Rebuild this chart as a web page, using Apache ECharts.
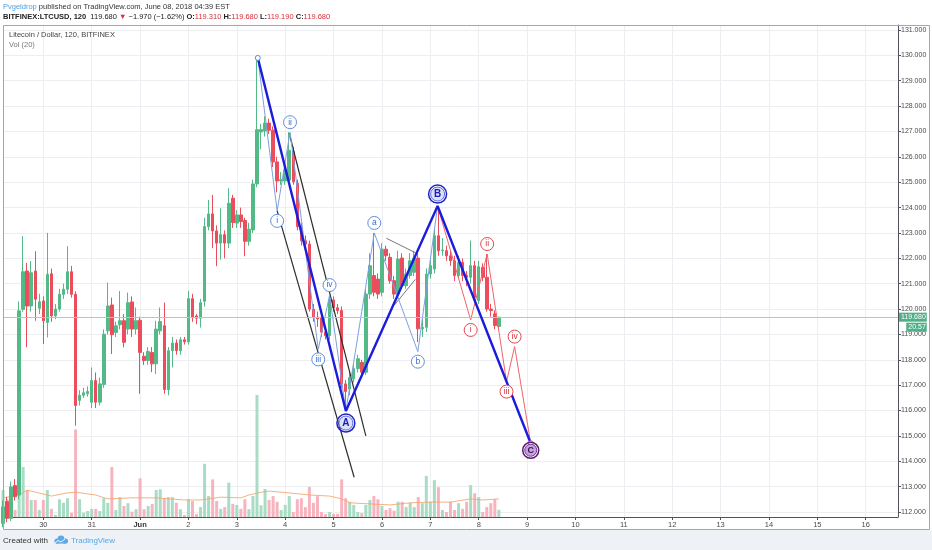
<!DOCTYPE html>
<html>
<head>
<meta charset="utf-8">
<script src="https://cdn.jsdelivr.net/npm/echarts@6/dist/echarts.min.js"></script>
<style>html,body{margin:0;padding:0;background:#fff;}#c{width:932px;height:550px;}</style>
</head>
<body>
<div id="c"></div>
<script>
// ---- data (bar index k = number of 2h bars after 30 May 00:00) ----
const firstBar = -10;
const lastSlot = 212;
const dayLabels = ['30','31','Jun','2','3','4','5','6','7','8','9','10','11','12','13','14','15','16'];
const priceTicks = [112,113,114,115,116,117,118,119,120,121,122,123,124,125,126,127,128,129,130,131];
// [open, close, low, high] for bars k = -10 .. 113
const candles = [
[111.55,112.20,111.40,112.45],[112.41,111.75,111.60,112.60],[111.75,112.99,111.65,113.20],[113.04,112.60,112.45,113.30],
[112.67,119.93,112.50,120.30],[119.99,121.47,119.90,122.87],[121.50,120.12,118.49,121.82],[120.12,121.43,119.90,121.89],
[121.50,120.39,119.54,122.28],[120.03,120.29,119.80,120.60],
[120.32,119.54,118.62,120.50],[119.47,121.37,118.88,123.00],[121.39,119.73,119.50,121.60],[119.73,120.00,119.60,120.20],
[120.00,120.58,119.90,120.80],[120.58,120.78,120.40,121.00],[120.78,121.47,120.60,122.48],[121.47,120.58,120.45,121.70],
[120.58,116.20,115.40,120.70],[116.40,116.60,116.20,116.80],
[116.60,116.70,116.50,116.90],[116.66,116.75,116.55,116.95],[116.33,117.18,116.10,117.70],[117.18,116.33,116.10,117.50],
[116.33,117.05,116.20,117.30],[117.03,119.01,116.90,119.20],[119.14,120.12,119.00,121.04],[120.16,118.99,118.23,120.45],
[119.08,119.34,118.90,119.50],[119.38,119.54,119.20,120.71],
[119.54,118.69,118.49,119.80],[119.21,120.25,119.00,120.65],[120.28,119.21,118.90,120.50],[119.21,119.54,119.00,120.06],
[119.56,118.29,116.66,119.70],[118.14,117.97,117.80,118.30],[117.97,118.33,117.80,118.50],[118.29,117.84,117.51,118.50],
[117.84,119.21,117.44,119.54],[119.14,119.51,119.00,120.06],
[119.34,116.83,116.66,120.26],[116.82,118.36,116.60,118.50],[118.36,118.66,117.70,118.90],[118.66,118.36,118.20,118.80],
[118.36,118.79,118.20,118.90],[118.79,118.71,118.60,118.90],[118.71,120.41,118.60,120.71],[120.41,119.69,119.50,120.60],
[119.73,119.64,119.40,119.80],[119.64,120.25,119.27,120.40],
[120.31,123.25,120.10,123.60],[123.25,123.75,123.10,124.30],[123.75,123.08,122.40,124.50],[123.08,122.60,121.69,123.30],
[122.60,122.93,121.95,123.97],[122.93,122.60,122.00,123.10],[122.60,124.17,122.40,124.76],[124.37,123.41,123.20,124.50],
[123.39,123.71,123.20,123.90],[123.71,123.45,123.20,124.00],
[123.49,122.67,122.08,123.60],[122.67,123.15,122.50,123.40],[123.12,124.93,123.00,125.10],[124.93,127.07,124.80,129.90],
[126.98,127.07,126.30,127.30],[127.02,127.33,126.80,127.60],[127.33,127.05,126.90,127.50],[127.05,125.80,125.60,127.20],
[125.80,125.05,124.60,126.00],[125.05,125.10,124.90,125.40],
[125.05,125.48,124.90,125.60],[125.08,126.26,124.95,126.97],[126.20,125.02,124.90,126.40],[124.95,123.25,123.10,125.10],
[123.22,122.69,122.50,123.40],[122.69,122.56,122.40,122.90],[122.56,120.00,119.90,122.70],[120.00,119.68,119.50,120.20],
[119.68,119.61,119.30,119.90],[119.68,119.09,118.90,119.80],
[119.09,118.95,118.80,119.20],[118.95,120.36,118.80,120.55],[120.36,120.05,119.90,120.50],[120.05,119.94,119.80,120.20],
[119.94,117.05,116.90,120.10],[117.05,116.75,115.98,117.20],[116.85,117.30,116.60,117.60],[117.25,117.65,117.10,117.80],
[117.65,118.04,117.50,118.20],[117.90,117.51,117.30,118.00],
[117.51,120.59,117.40,120.80],[120.59,121.71,120.40,122.20],[121.32,120.66,120.50,123.00],[121.18,120.59,120.40,121.40],
[120.66,122.36,120.50,122.60],[122.36,122.10,121.90,122.50],[122.04,121.12,121.00,122.20],[121.12,120.59,120.40,121.30],
[120.59,121.97,120.50,122.30],[122.01,120.92,120.80,122.20],
[120.92,121.38,120.80,121.60],[121.32,121.90,121.20,122.20],[121.45,122.01,121.30,122.30],[122.01,119.22,118.70,122.30],
[119.22,119.28,118.90,119.60],[119.28,121.38,119.10,121.60],[121.38,121.71,121.20,122.00],[121.58,122.89,121.40,123.20],
[122.89,122.30,122.10,124.05],[122.30,122.33,122.10,122.80],
[122.30,122.10,121.90,122.50],[122.10,121.90,121.70,122.30],[121.90,121.32,121.10,122.10],[121.32,121.84,121.20,122.10],
[121.84,121.32,121.10,122.00],[121.32,121.25,120.90,121.50],[121.25,121.71,121.00,122.70],[121.71,120.46,120.30,121.90],
[120.33,121.67,120.20,121.90],[121.64,121.25,121.10,121.80],
[121.25,120.00,119.90,122.17],[120.00,119.94,119.70,120.20],[119.81,119.35,119.20,119.95],[119.31,119.68,119.19,119.68]
];
const volumes = [
76,51,60,20,245,141,76,48,48,20,
48,76,23,6,50,40,53,12,247,50,
12,17,23,23,17,53,40,141,20,56,
31,39,15,22,109,22,31,37,76,78,
53,56,56,40,22,6,50,45,8,28,
150,59,106,45,23,28,97,37,34,23,
50,22,59,344,33,79,48,59,43,20,
34,59,14,50,53,28,85,40,59,14,
8,14,9,9,106,53,43,34,14,11,
34,48,59,50,31,20,25,18,43,43,
28,40,28,56,39,116,43,104,84,20,
14,43,20,39,23,43,90,67,56,14,
28,39,50,20.57
];
const volMA = [[-10,54],[-6,62],[-4,76],[2,59],[6,68],[8,70],[13,62],[16,51],[22,54],[28,54],[35,48],[39,48],[44,56],[49,54],[51,62],[54,70],[56,73],[61,68],[66,62],[71,59],[74,51],[76,40],[81,37],[86,34],[91,40],[96,42],[101,42],[106,51],[109,48],[113,51]];
const waveABC = [[53.2,129.9],[75.05,115.98],[97.8,124.06],[120.9,114.71]];
const waveAsub = [[53.2,129.9],[58.0,123.87],[61.2,126.97],[68.2,118.41],[71.0,120.55],[75.05,115.98]];
const waveBsub = [[75.05,115.98],[82.1,123.0],[92.9,118.32],[97.8,124.06]];
const waveCsub = [[97.8,124.06],[106,119.57],[110.1,122.17],[114.9,117.14],[116.9,118.52],[120.9,114.71]];
const channelUpper = [[61.0,126.93],[80.0,115.0]];
const channelLower = [[58.0,123.87],[77.1,113.37]];
const wedgeUpper = [[85.1,122.79],[92.3,122.22]];
const wedgeLower = [[87.1,120.16],[92.3,121.17]];
// label: [text, k, price, side(-1 above / 1 below)]
const blueMinorLabels = [['i',58.0,123.87,1],['ii',61.2,126.97,-1],['iii',68.2,118.41,1],['iv',71.0,120.55,-1],['a',82.1,123.0,-1],['b',92.9,118.32,1]];
const blueMajorLabels = [['A',75.05,115.98,1],['B',97.8,124.06,-1]];
const redMinorLabels = [['i',106,119.57,1],['ii',110.1,122.17,-1],['iii',114.9,117.14,1],['iv',116.9,118.52,-1]];
const cLabel = [['C',120.9,114.71,1]];
const lastPrice = 119.68, lastVol = 20.57;
const header = {sym:'BITFINEX:LTCUSD, 120', last:'119.680', chg:'\u22121.970 (\u22121.62%)', o:'119.310', h:'119.680', l:'119.190', c:'119.680'};

// ---- chart ----
const UP = '#53b987', DOWN = '#eb4d5c';
const FONT = 'Liberation Sans';
const cats = [];
for (let k = firstBar; k <= lastSlot; k++) cats.push(String(k));
const isDay = (idx) => { const k = idx + firstBar; return k >= 0 && k % 12 === 0; };

function lineSeries(data, color, width, z) {
  return {type:'line', xAxisIndex:1, yAxisIndex:0, data, symbol:'none', silent:true, z: z || 4,
    lineStyle:{color, width}, animation:false};
}
function circleLabels(list, o) {
  return {type:'scatter', xAxisIndex:1, yAxisIndex:0, z:o.z || 6, silent:true, symbol:'circle', symbolSize:o.size,
    itemStyle:{color:o.fill, borderColor:o.stroke, borderWidth:o.bw, opacity:1},
    label:{show:o.text != null, position:'inside', color:o.text, fontSize:o.fs, fontWeight:o.fw || 'normal', fontFamily:FONT,
      formatter:(p) => p.data.t},
    data:list.map(([t,k,p,side]) => ({value:[k,p], t, symbolOffset:[0, side*o.off]}))};
}

const chart = echarts.init(document.getElementById('c'), null, {width:932, height:550});
chart.setOption({
  animation:false,
  backgroundColor:'#ffffff',
  grid:{left:3, right:34, top:25, bottom:33, containLabel:false},
  xAxis:[
    {type:'category', data:cats, boundaryGap:false,
      axisLine:{show:true, onZero:false, lineStyle:{color:'#50535e', width:1}},
      axisTick:{show:true, interval:isDay, length:3, lineStyle:{color:'#50535e'}},
      axisLabel:{interval:isDay, color:'#4a4a4a', fontSize:7.5, fontFamily:FONT, margin:4,
        formatter:(v) => { const k = +v; const s = dayLabels[k/12]; return s === 'Jun' ? '{b|Jun}' : s; },
        rich:{b:{fontWeight:'bold', fontSize:7.5, fontFamily:FONT, color:'#333'}}},
      splitLine:{show:true, interval:isDay, lineStyle:{color:'#eceef2', width:1}}},
    {type:'value', min:firstBar, max:lastSlot, show:false, axisLine:{onZero:false}}
  ],
  yAxis:[
    {type:'value', position:'right', min:112 - 5/25.368, max:131 + 5/25.368, scale:true,
      axisLine:{show:true, onZero:false, lineStyle:{color:'#50535e'}},
      axisTick:{show:true, customValues:priceTicks, length:3, lineStyle:{color:'#50535e'}},
      axisLabel:{customValues:priceTicks, color:'#4a4a4a', fontSize:7, fontFamily:FONT, margin:3,
        formatter:(v) => Number(v).toFixed(3)},
      splitLine:{show:true, lineStyle:{color:'#eceef2', width:1}}},
    {type:'value', min:0, max:492*2.82, show:false, axisLine:{show:false, onZero:false}, splitLine:{show:false}}
  ],
  series:[
    {type:'bar', xAxisIndex:0, yAxisIndex:1, barWidth:3, z:1, silent:true,
      data:volumes.map((v,i) => ({value:v, itemStyle:{color: candles[i][1] >= candles[i][0] ? '#a9dcc4' : '#f7b4be'}}))},
    {type:'line', xAxisIndex:1, yAxisIndex:1, data:volMA, symbol:'none', silent:true, z:1,
      lineStyle:{color:'#f3a56c', width:1, opacity:0.85}},
    {type:'candlestick', xAxisIndex:0, yAxisIndex:0, barWidth:3, z:2, data:candles,
      itemStyle:{color:UP, color0:DOWN, borderColor:UP, borderColor0:DOWN, borderWidth:1},
      markLine:{silent:true, symbol:['none','none'], animation:false,
        lineStyle:{color:'#9ad6bc', type:'solid', width:1},
        label:{show:true, position:'end', distance:1,
          formatter:'{e| }\n{p|' + lastPrice.toFixed(3) + '}\n{v|' + lastVol.toFixed(2) + '}',
          rich:{
            e:{fontSize:7, lineHeight:10, align:'right'},
            p:{backgroundColor:'#4fb088', color:'#fff', fontSize:7, fontFamily:FONT, lineHeight:10, padding:[1,1,1,2], align:'right'},
            v:{backgroundColor:'#4fb088', color:'#fff', fontSize:7, fontFamily:FONT, lineHeight:10, padding:[1,1,1,2], align:'right'}}},
        data:[{yAxis:lastPrice}]}},
    lineSeries(channelUpper, '#2e2e2e', 1.2),
    lineSeries(channelLower, '#2e2e2e', 1.2),
    lineSeries(wedgeUpper, '#555', 0.8),
    lineSeries(wedgeLower, '#555', 0.8),
    lineSeries(waveAsub, '#7e9fe0', 1),
    lineSeries(waveBsub, '#7e9fe0', 1),
    lineSeries(waveCsub, '#f0646a', 1),
    lineSeries(waveABC, '#1c1cdc', 2.4, 5),
    circleLabels([['',53.2,129.9,0]], {size:5, fill:'#fff', stroke:'#6a86d8', bw:1, off:0}),
    circleLabels([['',120.9,114.71,0]], {size:5, fill:'#fff', stroke:'#b0489a', bw:1, off:0}),
    circleLabels(blueMinorLabels, {size:13, fill:'#ffffff', stroke:'#5f8fdc', bw:1, text:'#3a6fd2', fs:8.5, off:10}),
    circleLabels(redMinorLabels, {size:13, fill:'#ffffff', stroke:'#e2464f', bw:1, text:'#d8333c', fs:8.5, off:10}),
    circleLabels(blueMajorLabels.map(a => [''].concat(a.slice(1))), {size:18, fill:'rgba(0,0,0,0)', stroke:'#2222c6', bw:1.5, off:12, z:6}),
    circleLabels(blueMajorLabels, {size:14, fill:'#dbe1fb', stroke:'#5b6fe2', bw:1, text:'#1c1cb4', fs:10, fw:'bold', off:12, z:7}),
    circleLabels(cLabel.map(a => [''].concat(a.slice(1))), {size:16, fill:'rgba(0,0,0,0)', stroke:'#5a1d6e', bw:1.5, off:7, z:6}),
    circleLabels(cLabel, {size:12, fill:'#c3a3de', stroke:'#7a3a98', bw:1, text:'#3d0f4d', fs:9, fw:'bold', off:7, z:7})
  ],
  graphic:[
    {type:'rect', silent:true, shape:{x:0, y:530, width:932, height:20}, style:{fill:'#eef1f5'}, z:0},
    {type:'rect', silent:true, shape:{x:3.5, y:25.5, width:926, height:504}, style:{fill:'none', stroke:'#a3a6af', lineWidth:1}, z:100},
    {type:'text', silent:true, x:3, y:7, z:100, style:{text:'{u|Pvgeldrop} published on TradingView.com, June 08, 2018 04:39 EST',
      fill:'#333', fontSize:7.5, fontFamily:FONT, verticalAlign:'middle',
      rich:{u:{fill:'#4a9fe3', fontSize:7.5, fontFamily:FONT}}}},
    {type:'text', silent:true, x:3, y:17, z:100, style:{
      text:'{b|' + header.sym + '}  ' + header.last + ' {r|\u25BC} ' + header.chg + ' {b|O:}{r|' + header.o + '} {b|H:}{r|' + header.h + '} {b|L:}{r|' + header.l + '} {b|C:}{r|' + header.c + '}',
      fill:'#222', fontSize:7.5, fontFamily:FONT, verticalAlign:'middle',
      rich:{b:{fontWeight:'bold', fill:'#222', fontSize:7.5, fontFamily:FONT}, r:{fill:'#d4303a', fontSize:7.5, fontFamily:FONT}}}},
    {type:'text', silent:true, x:9, y:35, z:100, style:{text:'Litecoin / Dollar, 120, BITFINEX', fill:'#444', fontSize:7.5, fontFamily:FONT, verticalAlign:'middle'}},
    {type:'text', silent:true, x:9, y:45, z:100, style:{text:'Vol (20)', fill:'#777', fontSize:7.5, fontFamily:FONT, verticalAlign:'middle'}},
    {type:'text', silent:true, x:3, y:541, z:100, style:{text:'Created with', fill:'#333', fontSize:8, fontFamily:FONT, verticalAlign:'middle'}},
    {type:'group', silent:true, z:100, children:[
      {type:'circle', shape:{cx:57, cy:541, r:2.6}, style:{fill:'#5fa9e4'}},
      {type:'circle', shape:{cx:61, cy:539, r:3.4}, style:{fill:'#5fa9e4'}},
      {type:'circle', shape:{cx:65.5, cy:541, r:2.6}, style:{fill:'#5fa9e4'}},
      {type:'rect', shape:{x:56, y:541, width:10, height:2.6}, style:{fill:'#5fa9e4'}},
      {type:'polyline', shape:{points:[[55,543],[58,540.5],[61,542],[65,539]]}, style:{stroke:'#fff', lineWidth:0.9, fill:'none'}}
    ]},
    {type:'text', silent:true, x:71, y:541, z:100, style:{text:'TradingView', fill:'#5aa7e3', fontSize:8, fontFamily:FONT, verticalAlign:'middle'}}
  ]
});
</script>
</body>
</html>
